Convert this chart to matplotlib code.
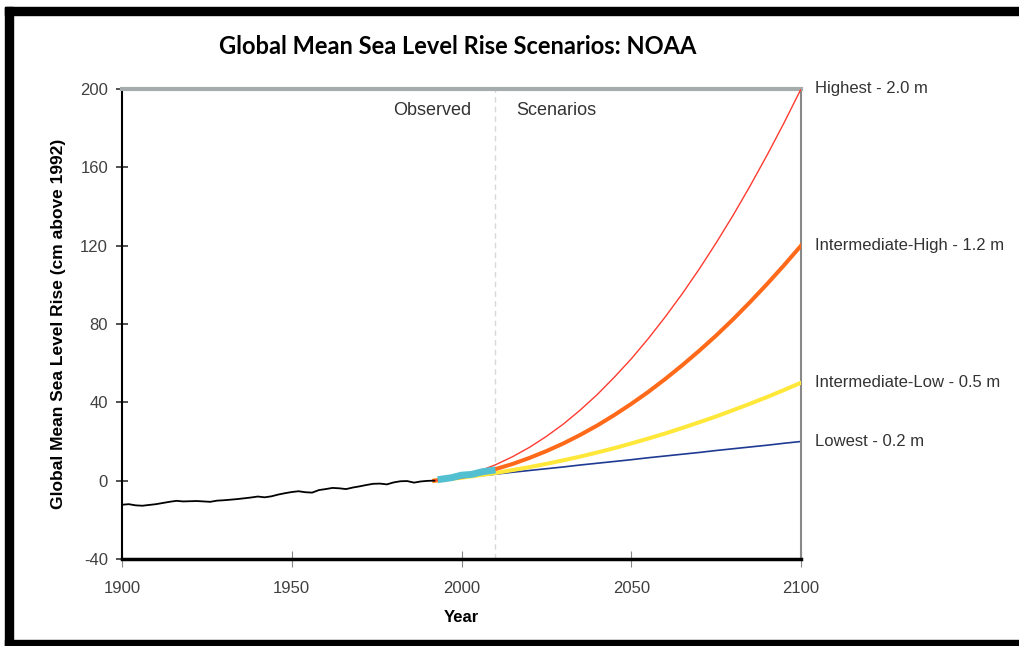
import numpy as np
import matplotlib.pyplot as plt
from matplotlib.patches import Rectangle

# observed tide gauge record (cm above 1992)
obs_years = list(range(1900, 1993, 2))
obs_cm = [-12.3, -12.0, -12.6, -12.8, -12.4, -12.0, -11.4, -10.8, -10.3, -10.6,
          -10.5, -10.4, -10.6, -10.8, -10.2, -10.0, -9.7, -9.4, -9.0, -8.6,
          -8.1, -8.5, -8.0, -7.1, -6.4, -5.8, -5.4, -5.9, -6.1, -4.8,
          -4.3, -3.7, -3.9, -4.3, -3.5, -2.9, -2.2, -1.6, -1.5, -1.9,
          -0.9, -0.3, -0.2, -1.0, -0.4, -0.1, 0.0]

# satellite altimetry
sat_years = [1993, 1997, 2000, 2003, 2006, 2010]
sat_cm = [0.5, 1.5, 2.8, 3.2, 4.5, 5.5]

# scenarios
scen_years = [1992, 2000] + list(range(2005, 2101, 5))
highest = [0, 2.4, 4.8, 8.1, 12.2, 17.0, 22.6, 28.9, 36.1, 44.0, 52.8, 62.2,
           72.5, 83.6, 95.4, 108.0, 121.4, 135.5, 150.5, 166.2, 182.7, 200]
int_high = [0, 1.9, 3.7, 5.9, 8.5, 11.6, 15.1, 19.0, 23.4, 28.2, 33.5, 39.2,
            45.3, 51.9, 58.9, 66.3, 74.1, 82.4, 91.2, 100.4, 110.0, 120]
int_low = [0, 1.5, 2.7, 3.9, 5.4, 6.9, 8.6, 10.4, 12.3, 14.4, 16.6, 19.0,
           21.5, 24.1, 26.9, 29.8, 32.8, 36.0, 39.3, 42.7, 46.3, 50]
lowest = [0, 1.5, 2.4, 3.3, 4.3, 5.2, 6.1, 7.0, 8.0, 8.9, 9.8, 10.7,
          11.7, 12.6, 13.5, 14.4, 15.4, 16.3, 17.2, 18.1, 19.1, 20]

labels = ["Highest - 2.0 m", "Intermediate-High - 1.2 m",
          "Intermediate-Low - 0.5 m", "Lowest - 0.2 m"]

plt.rcParams['font.family'] = ['Liberation Sans', 'DejaVu Sans']
plt.rcParams['axes.unicode_minus'] = False

fig = plt.figure(figsize=(10.19, 6.46), dpi=100)
ax = fig.add_axes([122/1019, 1-559/646, 679/1019, 470/646])

ax.axvline(2010, color='#d8d8d8', lw=1, ls=(0, (4, 3)), zorder=1)

ax.plot(scen_years, lowest, color='#1f3a93', lw=1.2, zorder=2)
ax.plot(scen_years, int_low, color='#ffe83a', lw=2.9, zorder=3)
ax.plot(scen_years, int_high, color='#ff6a1a', lw=2.9, zorder=4)
ax.plot(scen_years, highest, color='#ff3b30', lw=1.0, zorder=5)
ax.plot(obs_years, obs_cm, color='black', lw=1.3, zorder=6)
ax.plot(sat_years, sat_cm, color='#52c0d0', lw=5, solid_capstyle='butt', zorder=7)

ends = [highest[-1], int_high[-1], int_low[-1], lowest[-1]]
for lab, v in zip(labels, ends):
    ax.annotate(lab, xy=(2100, v), xytext=(10, 0), textcoords='offset points',
                va='center', ha='left', fontsize=12, color='#333333',
                annotation_clip=False)

ax.text(2002.8, 189, "Observed", ha='right', va='center', fontsize=13, color='#333333')
ax.text(2016, 189, "Scenarios", ha='left', va='center', fontsize=13, color='#333333')

ax.set_xlim(1900, 2100)
ax.set_ylim(-40, 200)
ax.set_xticks([1900, 1950, 2000, 2050, 2100])
ax.set_yticks(np.arange(-40, 201, 40))
ax.tick_params(axis='both', labelsize=12, labelcolor='#404040')
ax.tick_params(axis='y', direction='inout', length=8, width=1.2, color='#333333', pad=6)
ax.tick_params(axis='x', direction='inout', length=12, width=0.8, color='#888888', pad=10)

ax.spines['top'].set_color('#a4acac')
ax.spines['top'].set_linewidth(3)
ax.spines['right'].set_color('#888888')
ax.spines['right'].set_linewidth(1.5)
ax.spines['left'].set_color('black')
ax.spines['left'].set_linewidth(1.5)
ax.spines['bottom'].set_color('black')
ax.spines['bottom'].set_linewidth(2.5)

ax.set_xlabel("Year", fontsize=12, fontweight='bold', labelpad=10)
ax.set_ylabel("Global Mean Sea Level Rise (cm above 1992)", fontsize=12.5,
              fontweight='bold', labelpad=10)

fig.text(458/1019, 1-47/646, "Global Mean Sea Level Rise Scenarios: NOAA",
         ha='center', va='center', fontsize=17, fontweight='bold', family='Lato')

# black frame
fig.patches.append(Rectangle((5/1019, 0), 8/1019, 1-7/646, transform=fig.transFigure,
                             color='black', zorder=10))
fig.patches.append(Rectangle((5/1019, 1-15/646), 1, 8/646, transform=fig.transFigure,
                             color='black', zorder=10))
fig.patches.append(Rectangle((5/1019, 0), 1, 6/646, transform=fig.transFigure,
                             color='black', zorder=10))

fig.savefig('out.png', dpi=100)
